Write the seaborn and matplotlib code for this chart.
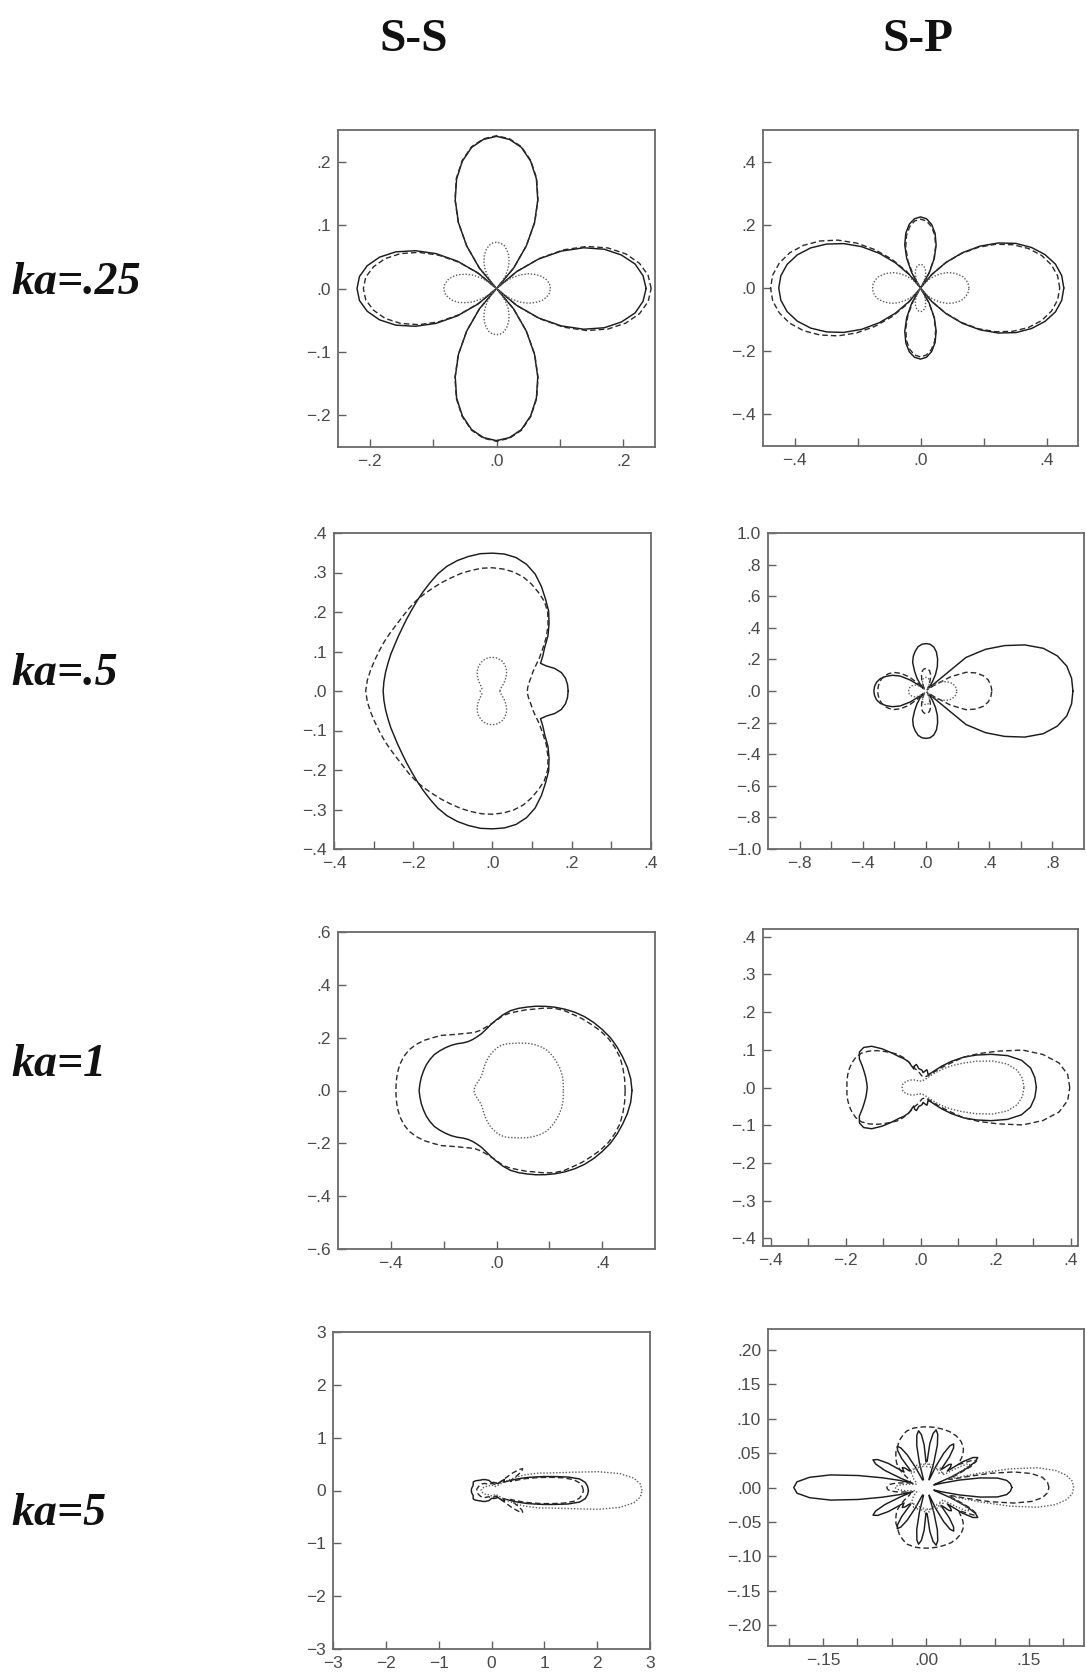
import numpy as np
import pandas as pd
import matplotlib
matplotlib.use("Agg")
import matplotlib.pyplot as plt
import seaborn as sns

# ------------------------------------------------------------------
# Scattering patterns r(theta), upper half-plane (theta = 0..180 deg);
# every pattern is symmetric about the x axis.
# Panels ka = .25, .5, 1 are sampled every 5 deg, ka = 5 every 2.5 deg.
# ------------------------------------------------------------------

# ka = .25, S-S
ss_025_solid = [.236, .232, .222, .204, .181, .152, .118, .081, .041, 0.0,
                .042, .082, .120, .154, .184, .208, .226, .236, .240,
                .236, .226, .208, .184, .154, .120, .082, .042, 0.0,
                .038, .075, .110, .141, .169, .191, .207, .217, .220]
ss_025_dashed = [.244, .240, .229, .211, .187, .157, .122, .083, .042, 0.0,
                 .042, .082, .121, .155, .185, .209, .227, .237, .241,
                 .237, .227, .209, .185, .155, .121, .082, .042, 0.0,
                 .036, .072, .105, .135, .161, .182, .197, .207, .210]
ss_025_dotted = [.085, .084, .080, .074, .065, .055, .043, .029, .015, 0.0,
                 .013, .025, .037, .047, .056, .063, .069, .072, .073,
                 .072, .069, .063, .056, .047, .037, .025, .013, 0.0,
                 .014, .028, .042, .053, .064, .072, .078, .082, .083]

# ka = .25, S-P
sp_025_solid = [.455, .450, .435, .409, .375, .334, .285, .231, .174, .115,
                .056, .001, .055, .104, .145, .179, .204, .220, .225,
                .220, .205, .180, .146, .104, .056, .003, .054, .113,
                .171, .228, .281, .329, .371, .405, .430, .445, .450]
sp_025_dashed = [.442, .437, .422, .398, .365, .324, .277, .225, .169, .112,
                 .055, .001, .053, .100, .141, .174, .198, .213, .218,
                 .213, .197, .172, .137, .094, .044, .010, .069, .129,
                 .189, .248, .303, .352, .395, .430, .455, .471, .476]
sp_025_dotted = [.154, .152, .147, .139, .127, .113, .097, .079, .059, .040,
                 .020, .000, .018, .034, .048, .060, .068, .073, .075,
                 .073, .068, .060, .048, .034, .018, .000, .020, .040,
                 .059, .079, .097, .112, .126, .138, .146, .151, .152]

# ka = .5, S-S
ss_05_solid = [.191, .190, .187, .180, .167, .150, .140, .155, .172, .198,
               .222, .247, .268, .292, .315, .332, .343, .348, .349,
               .349, .346, .342, .336, .327, .316, .306, .297, .289,
               .283, .278, .275, .273, .273, .273, .274, .275, .276]
ss_05_dashed = [.088, .089, .092, .097, .104, .112, .125, .144, .165, .192,
                .218, .243, .262, .275, .288, .299, .306, .310, .312,
                .312, .310, .308, .305, .303, .301, .300, .299, .297,
                .295, .295, .297, .300, .303, .307, .312, .317, .320]
ss_05_dotted = [.019, .019, .020, .021, .023, .026, .030, .035, .041, .048,
                .055, .062, .068, .073, .078, .081, .083, .085, .085,
                .085, .084, .082, .079, .075, .071, .066, .060, .054,
                .048, .042, .037, .033, .030, .028, .028, .030, .031]

# ka = .5, S-P
sp_05_solid = [.930, .925, .905, .860, .790, .690, .575, .460, .330, .030,
               .030, .070, .120, .170, .215, .255, .283, .297, .300,
               .297, .285, .262, .235, .200, .145, .100, .060, .025,
               .050, .120, .190, .235, .270, .300, .318, .327, .330]
sp_05_dashed = [.417, .412, .400, .375, .335, .280, .180, .060, .020, .010,
                .015, .020, .030, .050, .080, .110, .130, .140, .143,
                .140, .130, .110, .080, .050, .030, .020, .020, .060,
                .140, .195, .235, .260, .280, .292, .300, .304, .305]
sp_05_dotted = [.195, .193, .186, .175, .160, .140, .118, .090, .060, .030,
                .010, .015, .030, .050, .065, .076, .082, .085, .086,
                .085, .082, .076, .065, .050, .030, .015, .010, .020,
                .040, .058, .073, .085, .095, .102, .107, .110, .110]

# ka = 1, S-S
ss_1_solid = [.513, .510, .503, .494, .485, .475, .462, .449, .435, .419,
              .402, .385, .368, .352, .336, .322, .307, .288, .268,
              .250, .234, .222, .216, .213, .214, .220, .231, .242,
              .252, .262, .272, .278, .283, .286, .289, .291, .293]
ss_1_dashed = [.487, .487, .486, .484, .477, .467, .453, .437, .423, .408,
               .396, .380, .360, .340, .325, .310, .298, .285, .265,
               .252, .242, .236, .235, .240, .249, .260, .275, .295,
               .312, .332, .350, .365, .374, .379, .381, .381, .381]
ss_1_dotted = [.253, .254, .255, .255, .254, .252, .250, .247, .243, .235,
               .226, .217, .207, .198, .190, .184, .178, .170, .160,
               .148, .137, .126, .115, .105, .097, .089, .084, .080,
               .078, .077, .077, .078, .079, .081, .083, .084, .085]

# ka = 1, S-P
sp_1_solid = [.309, .306, .298, .279, .247, .208, .172, .140, .108, .080,
              .058, .045, .040, .045, .050, .045, .040, .046, .048,
              .050, .062, .060, .052, .075, .088, .100, .120, .145,
              .170, .185, .188, .180, .165, .155, .148, .144, .142]
sp_1_dashed = [.398, .394, .375, .338, .290, .228, .180, .140, .095, .070,
               .050, .040, .035, .032, .030, .030, .030, .032, .035,
               .040, .045, .050, .060, .075, .092, .108, .120, .135,
               .152, .168, .182, .190, .194, .196, .197, .197, .196]
sp_1_dotted = [.276, .273, .262, .240, .205, .165, .128, .100, .075, .055,
               .040, .030, .025, .022, .020, .018, .017, .017, .017,
               .017, .017, .018, .019, .020, .022, .024, .026, .028,
               .031, .034, .037, .040, .043, .046, .048, .049, .049]

# ka = 5, S-S  (2.5 deg steps)
ss_5_solid = [1.835, 1.82, 1.78, 1.68, 1.47, 1.22, 1.02, .85,      # 0 - 17.5
              .72, .60, .50, .42, .35, .30, .27, .30,               # 20 - 37.5
              .32, .28, .22, .18, .17, .17, .17, .17,               # 40 - 57.5
              .17, .16, .16, .16, .16, .16, .16, .15,               # 60 - 77.5
              .15, .15, .15, .15, .15, .155, .16, .17,              # 80 - 97.5
              .18, .19, .20, .205, .21, .215, .22, .23,             # 100 - 117.5
              .24, .245, .25, .26, .27, .275, .28, .29,             # 120 - 137.5
              .30, .315, .33, .345, .36, .37, .38, .375,            # 140 - 157.5
              .37, .365, .36, .365, .37, .375, .38, .38,            # 160 - 177.5
              .38]                                                  # 180
ss_5_dashed = [1.74, 1.72, 1.67, 1.57, 1.38, 1.15, .95, .78,
               .64, .50, .40, .42, .55, .68, .72, .65,
               .50, .30, .20, .15, .14, .14, .13, .13,
               .13, .13, .13, .13, .13, .13, .13, .13,
               .13, .13, .13, .13, .13, .13, .13, .13,
               .13, .13, .13, .13, .13, .13, .13, .135,
               .14, .145, .15, .16, .17, .18, .19, .195,
               .20, .21, .22, .225, .23, .235, .24, .245,
               .25, .255, .26, .265, .27, .275, .28, .28,
               .28]
ss_5_dotted = [2.85, 2.82, 2.70, 2.45, 2.05, 1.60, 1.30, 1.10,
               .97, .82, .70, .58, .45, .35, .25, .18,
               .14, .12, .11, .10, .10, .10, .10, .10,
               .10, .10, .10, .10, .10, .10, .10, .10,
               .10, .10, .10, .10, .10, .10, .10, .10,
               .10, .10, .10, .10, .10, .10, .10, .10,
               .10, .10, .10, .10, .10, .105, .11, .115,
               .12, .125, .13, .135, .14, .145, .15, .155,
               .16, .165, .17, .175, .18, .185, .19, .195,
               .20]

# ka = 5, S-P  (2.5 deg steps)
sp_5_solid = [.125, .123, .118, .105, .080, .050, .025, .012,      # 0 - 17.5
              .013, .039, .065, .081, .087, .081, .065, .039,       # 20 - 37.5
              .047, .050, .047, .038, .034, .056, .070, .075,       # 40 - 57.5
              .070, .056, .034, .012, .013, .038, .064, .079,       # 60 - 77.5
              .085, .079, .064, .038, .037, .062, .077, .083,       # 80 - 97.5
              .077, .062, .037, .012, .012, .012, .012, .033,       # 100 - 117.5
              .055, .068, .073, .068, .055, .033, .034, .042,       # 120 - 137.5
              .045, .042, .039, .065, .081, .087, .081, .065,       # 140 - 157.5
              .039, .020, .040, .065, .100, .140, .170, .188,       # 160 - 177.5
              .1925]                                                # 180
sp_5_dashed = [.179, .177, .170, .155, .130, .095, .060, .040,
               .035, .050, .072, .083, .080, .068, .058, .062,
               .068, .073, .077, .080, .082, .084, .085, .086,
               .087, .087, .088, .088, .088, .088, .088, .088,
               .088, .088, .088, .088, .088, .088, .088, .088,
               .088, .088, .087, .087, .086, .084, .082, .080,
               .078, .075, .072, .070, .068, .065, .062, .059,
               .056, .052, .047, .042, .036, .031, .027, .025,
               .024, .024, .026, .030, .038, .046, .053, .056,
               .057]
sp_5_dotted = [.215, .213, .205, .190, .165, .125, .080, .050,
               .035, .040, .060, .072, .068, .050, .035, .030,
               .032, .034, .031, .028, .032, .036, .033, .029,
               .031, .035, .033, .029, .031, .035, .034, .030,
               .032, .036, .034, .030, .032, .036, .034, .030,
               .032, .035, .033, .029, .031, .035, .033, .029,
               .031, .034, .032, .028, .030, .033, .031, .027,
               .025, .024, .022, .020, .018, .016, .015, .015,
               .015, .016, .018, .022, .027, .033, .039, .043,
               .045]

# ------------------------------------------------------------------
# Axis ticks and labels
# ------------------------------------------------------------------
M = "\u2212"

ss_025_xticks = [-.2, -.1, 0, .1, .2]
ss_025_xlabels = [M + ".2", "", ".0", "", ".2"]
ss_025_yticks = [-.2, -.1, 0, .1, .2]
ss_025_ylabels = [M + ".2", M + ".1", ".0", ".1", ".2"]

sp_025_xticks = [-.4, -.2, 0, .2, .4]
sp_025_xlabels = [M + ".4", "", ".0", "", ".4"]
sp_025_yticks = [-.4, -.2, 0, .2, .4]
sp_025_ylabels = [M + ".4", M + ".2", ".0", ".2", ".4"]

ss_05_xticks = [-.4, -.3, -.2, -.1, 0, .1, .2, .3, .4]
ss_05_xlabels = [M + ".4", "", M + ".2", "", ".0", "", ".2", "", ".4"]
ss_05_yticks = [-.4, -.3, -.2, -.1, 0, .1, .2, .3, .4]
ss_05_ylabels = [M + ".4", M + ".3", M + ".2", M + ".1", ".0", ".1", ".2", ".3", ".4"]

sp_05_xticks = [-.8, -.6, -.4, -.2, 0, .2, .4, .6, .8]
sp_05_xlabels = [M + ".8", "", M + ".4", "", ".0", "", ".4", "", ".8"]
sp_05_yticks = [-1, -.8, -.6, -.4, -.2, 0, .2, .4, .6, .8, 1]
sp_05_ylabels = [M + "1.0", M + ".8", M + ".6", M + ".4", M + ".2", ".0",
                 ".2", ".4", ".6", ".8", "1.0"]

ss_1_xticks = [-.4, -.2, 0, .2, .4]
ss_1_xlabels = [M + ".4", "", ".0", "", ".4"]
ss_1_yticks = [-.6, -.4, -.2, 0, .2, .4, .6]
ss_1_ylabels = [M + ".6", M + ".4", M + ".2", ".0", ".2", ".4", ".6"]

sp_1_xticks = [-.4, -.3, -.2, -.1, 0, .1, .2, .3, .4]
sp_1_xlabels = [M + ".4", "", M + ".2", "", ".0", "", ".2", "", ".4"]
sp_1_yticks = [-.4, -.3, -.2, -.1, 0, .1, .2, .3, .4]
sp_1_ylabels = [M + ".4", M + ".3", M + ".2", M + ".1", ".0", ".1", ".2", ".3", ".4"]

ss_5_xticks = [-3, -2, -1, 0, 1, 2, 3]
ss_5_xlabels = [M + "3", M + "2", M + "1", "0", "1", "2", "3"]
ss_5_yticks = [-3, -2, -1, 0, 1, 2, 3]
ss_5_ylabels = [M + "3", M + "2", M + "1", "0", "1", "2", "3"]

sp_5_xticks = [-.2, -.15, -.1, -.05, 0, .05, .1, .15, .2]
sp_5_xlabels = ["", M + ".15", "", "", ".00", "", "", ".15", ""]
sp_5_yticks = [-.2, -.15, -.1, -.05, 0, .05, .1, .15, .2]
sp_5_ylabels = [M + ".20", M + ".15", M + ".10", M + ".05", ".00",
                ".05", ".10", ".15", ".20"]

row_labels = ["ka=.25", "ka=.5", "ka=1", "ka=5"]
col_titles = ["S-S", "S-P"]

# ------------------------------------------------------------------
# Figure layout (pixel boxes: left, top, right, bottom)
# ------------------------------------------------------------------
W, H = 1087, 1677

panels = [
    dict(box=(338, 130, 655, 447), lim=.25, step=5,
         curves=(ss_025_solid, ss_025_dashed, ss_025_dotted),
         xt=(ss_025_xticks, ss_025_xlabels), yt=(ss_025_yticks, ss_025_ylabels)),
    dict(box=(763, 130, 1078, 446), lim=.5, step=5,
         curves=(sp_025_solid, sp_025_dashed, sp_025_dotted),
         xt=(sp_025_xticks, sp_025_xlabels), yt=(sp_025_yticks, sp_025_ylabels)),
    dict(box=(334, 533, 651, 849), lim=.4, step=5,
         curves=(ss_05_solid, ss_05_dashed, ss_05_dotted),
         xt=(ss_05_xticks, ss_05_xlabels), yt=(ss_05_yticks, ss_05_ylabels)),
    dict(box=(768, 533, 1084, 849), lim=1.0, step=5,
         curves=(sp_05_solid, sp_05_dashed, sp_05_dotted),
         xt=(sp_05_xticks, sp_05_xlabels), yt=(sp_05_yticks, sp_05_ylabels)),
    dict(box=(338, 932, 655, 1249), lim=.6, step=5,
         curves=(ss_1_solid, ss_1_dashed, ss_1_dotted),
         xt=(ss_1_xticks, ss_1_xlabels), yt=(ss_1_yticks, ss_1_ylabels)),
    dict(box=(763, 929, 1078, 1246), lim=.42, step=5,
         curves=(sp_1_solid, sp_1_dashed, sp_1_dotted),
         xt=(sp_1_xticks, sp_1_xlabels), yt=(sp_1_yticks, sp_1_ylabels)),
    dict(box=(333, 1332, 650, 1649), lim=3.0, step=2.5,
         curves=(ss_5_solid, ss_5_dashed, ss_5_dotted),
         xt=(ss_5_xticks, ss_5_xlabels), yt=(ss_5_yticks, ss_5_ylabels)),
    dict(box=(768, 1329, 1084, 1646), lim=.23, step=2.5,
         curves=(sp_5_solid, sp_5_dashed, sp_5_dotted),
         xt=(sp_5_xticks, sp_5_xlabels), yt=(sp_5_yticks, sp_5_ylabels)),
]

line_styles = [
    dict(color="#1c1c1c", linestyle="-", linewidth=1.05),
    dict(color="#2a2a2a", linestyle=(0, (4.0, 2.2)), linewidth=1.0),
    dict(color="#5a5a5a", linestyle=(0, (1.0, 1.3)), linewidth=1.0),
]


def closed_pattern(r_half, step):
    """Mirror an upper half-plane pattern about the x axis into a closed loop."""
    r = np.asarray(r_half, dtype=float)
    assert len(r) == int(round(180 / step)) + 1, len(r)
    ang = np.deg2rad(np.arange(len(r)) * step)
    r_full = np.concatenate([r, r[-2::-1]])
    a_full = np.concatenate([ang, 2 * np.pi - ang[-2::-1]])
    return pd.DataFrame({"x": r_full * np.cos(a_full), "y": r_full * np.sin(a_full)})


sns.set_theme(style="white")
plt.rcParams["font.family"] = ["Liberation Sans", "DejaVu Sans"]

fig = plt.figure(figsize=(W / 100, H / 100), dpi=100)
fig.patch.set_facecolor("white")

for p in panels:
    x0, y0, x1, y1 = p["box"]
    ax = fig.add_axes([x0 / W, 1 - y1 / H, (x1 - x0) / W, (y1 - y0) / H])
    for r_half, st in zip(p["curves"], line_styles):
        df = closed_pattern(r_half, p["step"])
        sns.lineplot(data=df, x="x", y="y", sort=False, estimator=None,
                     ax=ax, legend=False, **st)
    lim = p["lim"]
    ax.set_xlim(-lim, lim)
    ax.set_ylim(-lim, lim)
    ax.set_xticks(p["xt"][0], p["xt"][1])
    ax.set_yticks(p["yt"][0], p["yt"][1])
    ax.set_xlabel("")
    ax.set_ylabel("")
    ax.tick_params(direction="in", length=6, width=1.0, color="#606060",
                   labelcolor="#4a4a4a", labelsize=12.5, pad=5,
                   top=False, right=False, bottom=True, left=True)
    for sp in ax.spines.values():
        sp.set_visible(True)
        sp.set_color("#6a6a6a")
        sp.set_linewidth(1.3)
    ax.set_facecolor("white")
    ax.grid(False)

# column titles
for title, xc in zip(col_titles, [414, 918]):
    fig.text(xc / W, 1 - 51 / H, title, ha="center", va="baseline",
             fontsize=34, fontweight="bold", family="Liberation Serif",
             color="#111111")

# row labels
for label, yb in zip(row_labels, [294, 685, 1076, 1525]):
    fig.text(11 / W, 1 - yb / H, label, ha="left", va="baseline",
             fontsize=33, fontweight="bold", fontstyle="italic",
             family="Liberation Serif", color="#111111")

fig.savefig("out.png", dpi=100, facecolor="white")
